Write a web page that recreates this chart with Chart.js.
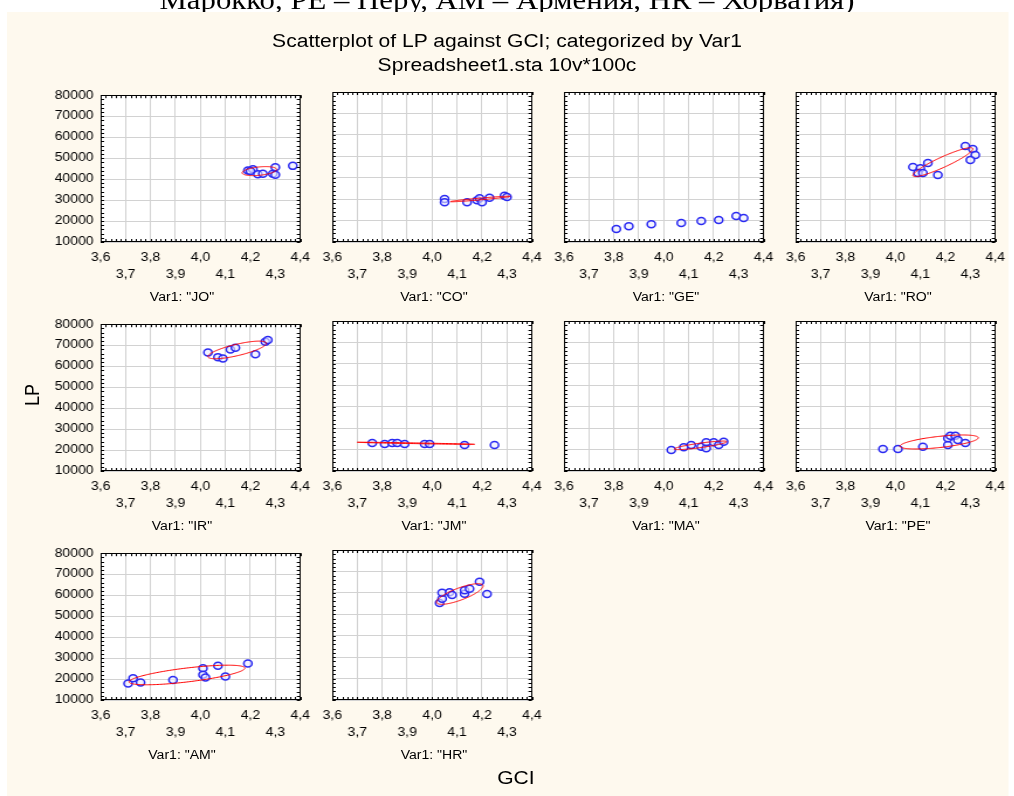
<!DOCTYPE html>
<html>
<head>
<meta charset="utf-8">
<script src="https://cdn.jsdelivr.net/npm/chart.js@4"></script>
<style>
html,body{margin:0;padding:0;background:#fff;width:1014px;height:796px;overflow:hidden}
#wrap{position:absolute;left:0;top:0;width:866.7px;height:796px;transform:scaleX(1.17);transform-origin:0 0}
#note{position:absolute;left:0;top:-12px;width:100%;text-align:center;font:26.3px/26px 'Liberation Serif','Times New Roman',serif;color:#000;white-space:nowrap}
#paper{position:absolute;left:6px;top:12px;width:855.6px;height:784px;background:#fef9ee}
.t{position:absolute;white-space:nowrap;color:#000;font-family:'Liberation Sans',Arial,sans-serif}
.ttl{left:0;width:100%;text-align:center;font-size:18px;line-height:18px}
canvas{position:absolute}
.lab{font-size:12px;line-height:14px;transform:translate(-50%,-50%)}
</style>
</head>
<body>
<div id="wrap">
  <div id="note">Марокко, PE – Перу, AM – Армения, HR – Хорватия)</div>
  <div id="paper"></div>
  <div class="t ttl" style="top:32px">Scatterplot of LP against GCI; categorized by Var1</div>
  <div class="t ttl" style="top:56px">Spreadsheet1.sta 10v*100c</div>
  <div class="t" id="lp" style="left:26.5px;top:395px;font-size:18px;line-height:18px;transform:translate(-50%,-50%) rotate(-90deg)">LP</div>
  <div class="t" id="gci" style="left:441px;top:778px;font-size:18px;line-height:18px;transform:translate(-50%,-50%)">GCI</div>
</div>
<script>
// data
const categories = ['JO','CO','GE','RO','IR','JM','MA','PE','AM','HR'];
const gci = [
  [4.19, 4.21, 4.20, 4.23, 4.25, 4.29, 4.30, 4.30, 4.37],
  [4.05, 4.05, 4.14, 4.18, 4.19, 4.20, 4.23, 4.29, 4.30],
  [3.81, 3.86, 3.95, 4.07, 4.15, 4.22, 4.29, 4.32],
  [4.07, 4.10, 4.09, 4.11, 4.13, 4.17, 4.28, 4.31, 4.32, 4.30],
  [4.03, 4.07, 4.09, 4.12, 4.14, 4.22, 4.26, 4.27],
  [3.76, 3.81, 3.84, 3.86, 3.89, 3.97, 3.99, 4.13, 4.25],
  [4.03, 4.08, 4.11, 4.15, 4.17, 4.17, 4.20, 4.22, 4.24],
  [3.95, 4.01, 4.11, 4.21, 4.21, 4.22, 4.24, 4.25, 4.28],
  [3.71, 3.73, 3.76, 3.89, 4.01, 4.01, 4.02, 4.07, 4.10, 4.19],
  [4.03, 4.04, 4.04, 4.07, 4.08, 4.13, 4.13, 4.15, 4.19, 4.22]
];
const lp = [
  [44100, 44700, 43900, 42300, 42500, 42500, 45600, 42100, 46300],
  [30100, 28500, 28500, 29500, 30400, 28500, 30700, 31600, 31000],
  [16100, 17300, 18300, 18900, 19800, 20300, 22100, 21200],
  [45000, 44400, 42200, 42200, 46900, 41300, 54800, 53400, 50600, 48300],
  [66500, 64300, 63700, 67900, 68800, 65700, 71600, 72500],
  [23100, 22600, 23100, 23100, 22600, 22600, 22600, 22100, 22100],
  [19800, 21100, 22100, 21300, 20600, 23400, 23400, 22100, 23700],
  [20300, 20300, 21300, 22100, 25300, 26500, 26500, 24500, 23100],
  [17900, 20400, 18400, 19500, 25100, 22000, 20700, 26300, 21200, 27400],
  [55300, 57300, 60100, 60300, 59000, 59600, 61200, 61900, 65200, 59500]
];
// ellipse per panel: centre, half ranges and correlation (GE has none)
const ellCx = [4.236, 4.193, null, 4.19, 4.147, 3.935, 4.147, 4.175, 3.946, 4.111];
const ellSx = [0.069, 0.12, null, 0.12, 0.117, 0.235, 0.105, 0.157, 0.232, 0.093];
const ellCy = [43800, 30070, null, 47270, 67730, 22930, 21970, 23540, 21930, 59460];
const ellSy = [2150, 1300, null, 6730, 4200, 500, 2000, 3270, 4670, 4810];
const ellR  = [0.37, 0.95, null, 0.92, 0.75, -0.95, 0.85, 0.6, 0.7, 0.78];
const xMin = 3.6, xMax = 4.4, xStep = 0.1;
const yMin = 10000, yMax = 80000, yStep = 10000;

// layout (reference pixels are divided by S inside the stretched wrapper)
const S = 1.17;
const FONT = "'Liberation Sans', Arial, sans-serif";
const plotLeft = [101, 332, 564, 796];
const plotTop = [92, 321, 550];
const PLOT_W = 174, PLOT_H = 150, AX_W = 60, PAD_T = 10, PAD_R = 12, X_AX_H = 65;

const wrap = document.getElementById('wrap');

const panelPlugin = {
  id: 'panel',
  beforeDraw(chart){
    const {ctx, chartArea:a} = chart;
    ctx.save();
    ctx.fillStyle = '#fff';
    ctx.fillRect(a.left, a.top, a.right - a.left, a.bottom - a.top);
    ctx.restore();
  },
  afterDatasetsDraw(chart){
    const i = chart.options.plugins.panel.index;
    if(ellCx[i] == null) return;
    const {ctx, chartArea:a, scales:{x, y}} = chart;
    const k = Math.sqrt(1 - ellR[i]*ellR[i]);
    ctx.save();
    ctx.beginPath();
    ctx.rect(a.left, a.top, a.right - a.left, a.bottom - a.top);
    ctx.clip();
    ctx.beginPath();
    for(let s = 0; s <= 180; s++){
      const t = s / 180 * Math.PI * 2;
      const vx = ellCx[i] + ellSx[i] * Math.cos(t);
      const vy = ellCy[i] + ellSy[i] * (ellR[i] * Math.cos(t) + k * Math.sin(t));
      const px = x.getPixelForValue(vx), py = y.getPixelForValue(vy);
      if(s === 0) ctx.moveTo(px, py); else ctx.lineTo(px, py);
    }
    ctx.strokeStyle = '#ff0000';
    ctx.lineWidth = 1;
    ctx.stroke();
    ctx.restore();
  },
  afterDraw(chart){
    const {ctx, chartArea:a, scales:{x, y}} = chart;
    ctx.save();
    ctx.strokeStyle = '#000';
    ctx.lineWidth = 1;
    // minor ticks on all four sides
    ctx.beginPath();
    for(let j = 0; j <= 40; j++){
      const px = Math.round(x.getPixelForValue(xMin + j * 0.02)) + 0.5;
      ctx.moveTo(px, a.bottom); ctx.lineTo(px, a.bottom - 3);
      ctx.moveTo(px, a.top); ctx.lineTo(px, a.top + 3);
    }
    for(let j = 0; j <= 35; j++){
      const py = Math.round(y.getPixelForValue(yMin + j * 2000)) + 0.5;
      ctx.moveTo(a.left, py); ctx.lineTo(a.left + 3, py);
      ctx.moveTo(a.right, py); ctx.lineTo(a.right - 3, py);
    }
    ctx.stroke();
    ctx.strokeRect(Math.round(a.left) + 0.5, Math.round(a.top) + 0.5,
                   Math.round(a.right - a.left) - 1, Math.round(a.bottom - a.top) - 1);
    ctx.restore();
  }
};

categories.forEach((cat, i) => {
  const col = i % 4, row = Math.floor(i / 4);
  const c = document.createElement('canvas');
  const W = AX_W + PLOT_W + PAD_R, H = PAD_T + PLOT_H + X_AX_H;
  c.width = W; c.height = H;
  c.style.width = W + 'px'; c.style.height = H + 'px';
  c.style.left = (plotLeft[col] / S - AX_W) + 'px';
  c.style.top = (plotTop[row] - PAD_T) + 'px';
  wrap.appendChild(c);

  new Chart(c, {
    type: 'scatter',
    data: { datasets: [{
      data: gci[i].map((v, k) => ({x: v, y: lp[i][k]})),
      pointStyle: 'circle', pointRadius: 3.5, pointHoverRadius: 3.5,
      borderWidth: 1.5, borderColor: '#2a2af2', backgroundColor: 'rgba(235,235,255,0.6)'
    }]},
    options: {
      responsive: false, animation: false, devicePixelRatio: 1, events: [],
      layout: { padding: { top: PAD_T, right: PAD_R, left: 0, bottom: 0 } },
      plugins: { legend: {display: false}, tooltip: {enabled: false}, panel: {index: i} },
      scales: {
        x: {
          type: 'linear', min: xMin, max: xMax,
          afterFit: s => { s.height = X_AX_H; },
          grid: { color: '#d2d2d2', drawTicks: false },
          border: { display: false },
          ticks: {
            stepSize: xStep, autoSkip: false, maxRotation: 0, padding: 7, color: '#000',
            font: { family: FONT, size: 12, lineHeight: 1.4 },
            callback: v => {
              const lab = v.toFixed(1).replace('.', ',');
              return Math.round(v * 10) % 2 === 0 ? [lab] : ['', lab];
            }
          }
        },
        y: {
          type: 'linear', min: yMin, max: yMax,
          afterFit: s => { s.width = AX_W; },
          grid: { color: '#d2d2d2', drawTicks: false },
          border: { display: false },
          ticks: {
            display: col === 0, stepSize: yStep, padding: 6, color: '#000',
            font: { family: FONT, size: 12 },
            callback: v => String(v)
          }
        }
      }
    },
    plugins: [panelPlugin]
  });

  const lab = document.createElement('div');
  lab.className = 't lab';
  lab.textContent = 'Var1: "' + cat + '"';
  const cx = col === 0 ? 182 : plotLeft[col] + 102;
  lab.style.left = (cx / S) + 'px';
  lab.style.top = (plotTop[row] + PLOT_H + 55) + 'px';
  wrap.appendChild(lab);
});
</script>
</body>
</html>
